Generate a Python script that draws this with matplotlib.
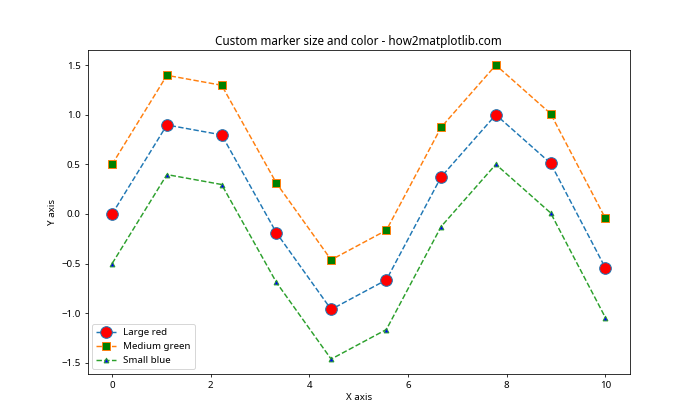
import matplotlib
matplotlib.use("Agg")
import matplotlib.pyplot as plt

plt.rcParams["font.family"] = ["Noto Sans", "DejaVu Sans"]

# values
x = [0, 1.11, 2.22, 3.33, 4.44, 5.56, 6.67, 7.78, 8.89, 10]
y_red = [0.0, 0.896, 0.796, -0.190, -0.963, -0.665, 0.372, 0.999, 0.510, -0.544]
y_green = [0.5, 1.396, 1.296, 0.310, -0.463, -0.165, 0.872, 1.499, 1.010, -0.044]
y_blue = [-0.5, 0.396, 0.296, -0.690, -1.463, -1.165, -0.128, 0.499, 0.010, -1.044]

# 10x6 figure drawn at 70 dpi -> 700x420
fig, ax = plt.subplots(figsize=(10, 6), dpi=70)

ax.plot(x, y_red, "o--", markersize=12, markerfacecolor="red", label="Large red")
ax.plot(x, y_green, "s--", markersize=8, markerfacecolor="green", label="Medium green")
ax.plot(x, y_blue, "^--", markersize=5, markerfacecolor="blue", label="Small blue")

ax.set_title("Custom marker size and color - how2matplotlib.com")
ax.set_xlabel("X axis")
ax.set_ylabel("Y axis")
ax.legend(loc="lower left")

plt.subplots_adjust(left=0.125, right=0.9, top=0.88, bottom=0.11)
plt.savefig("out.png")
